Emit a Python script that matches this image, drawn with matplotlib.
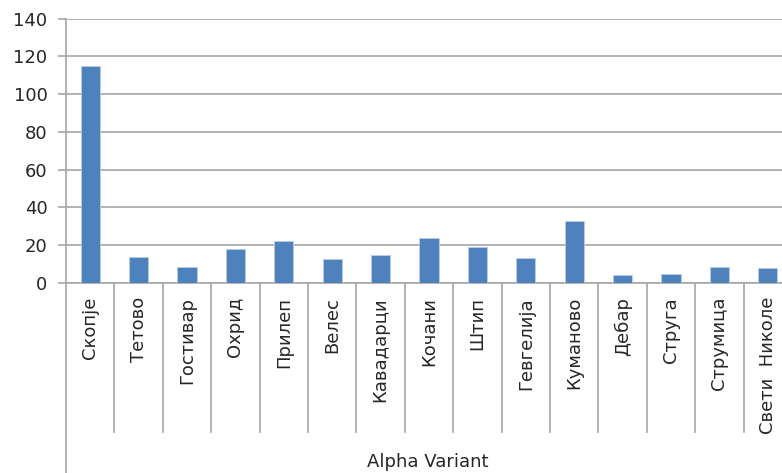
import matplotlib.pyplot as plt
import matplotlib.transforms as mtransforms

# ----------------------------
# Data
# ----------------------------

cities = [
    "Скопје", "Тетово", "Гостивар", "Охрид", "Прилеп",
    "Велес", "Кавадарци", "Кочани", "Штип", "Гевгелија",
    "Куманово", "Дебар", "Струга", "Струмица", "Свети  Николе"
]

cases = [115, 14, 8.5, 18, 22, 12.5, 15, 24, 19, 13, 33, 4, 5, 8.5, 8]

group_label = "Alpha Variant"

# ----------------------------
# Figure
# ----------------------------

W, H = 782, 473
fig = plt.figure(figsize=(W / 100, H / 100), dpi=100)

left_px, right_px, top_px, bottom_px = 66, 792, 18.5, 283
ax = fig.add_axes([left_px / W, 1 - bottom_px / H,
                   (right_px - left_px) / W, (bottom_px - top_px) / H])

grid_col = "#a6a6a6"
text_col = "#262626"

x = list(range(len(cities)))
ax.bar(x, cases, width=0.4, color="#4f81bd", edgecolor="#b9cde5",
       linewidth=0.6, zorder=3)

ax.set_xlim(-0.5, len(cities) - 0.5)
ax.set_ylim(0, 140)
ax.set_yticks(range(0, 141, 20))
ax.yaxis.grid(True, color=grid_col, linewidth=1.2, zorder=0)

for s in ["top", "right"]:
    ax.spines[s].set_visible(False)
ax.spines["bottom"].set_color(grid_col)
ax.spines["bottom"].set_linewidth(1.2)
ax.spines["left"].set_visible(False)

ax.tick_params(axis="y", length=5.8, width=1.2, color=grid_col,
               labelsize=13, labelcolor=text_col, pad=7.5)
ax.tick_params(axis="x", length=0, labelbottom=False)

# ----------------------------
# Multi-level category axis
# ----------------------------

px_per_axes = bottom_px - top_px
trans = mtransforms.blended_transform_factory(ax.transData, ax.transAxes)

div_bottom = -(432 - bottom_px) / px_per_axes
for i in range(1, len(cities) + 1):
    ax.plot([i - 0.5, i - 0.5], [0, div_bottom], transform=trans,
            color=grid_col, linewidth=1.2, clip_on=False)

# left axis line runs down through both levels
ax.plot([-0.5, -0.5], [1, -(H - bottom_px + 5) / px_per_axes],
        transform=trans, color=grid_col, linewidth=1.2, clip_on=False)

label_top = -(297 - bottom_px) / px_per_axes
for i, name in enumerate(cities):
    ax.text(i, label_top, name, transform=trans, rotation=90,
            ha="center", va="top", fontsize=13, color=text_col)

ax.text(428 / W, 1 - 462 / H, group_label, transform=fig.transFigure,
        ha="center", va="center", fontsize=13, color=text_col)

fig.savefig("out.png", dpi=100)
